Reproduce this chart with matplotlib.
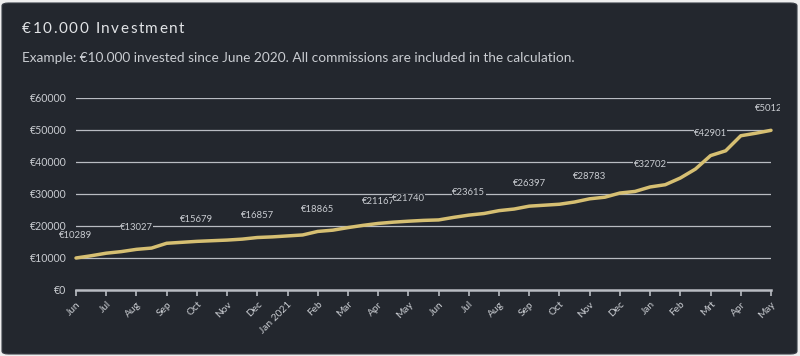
import matplotlib.pyplot as plt
from matplotlib.patches import FancyBboxPatch
from matplotlib.transforms import Bbox, TransformedBbox

# semi-monthly portfolio value, Jun 2020 -> May 2022
values = [10000, 10700, 11500, 12000, 12700, 13100, 14600, 14900, 15200, 15400,
          15600, 15900, 16400, 16600, 16900, 17200, 18300, 18700, 19500, 20200,
          20800, 21200, 21500, 21750, 21900, 22700, 23400, 23900, 24800, 25300,
          26200, 26500, 26800, 27500, 28500, 29000, 30300, 30800, 32200, 32900,
          35000, 37800, 42000, 43500, 48200, 49000, 49900]

months = ['Jun', 'Jul', 'Aug', 'Sep', 'Oct', 'Nov', 'Dec', 'Jan 2021', 'Feb', 'Mar',
          'Apr', 'May', 'Jun', 'Jul', 'Aug', 'Sep', 'Oct', 'Nov', 'Dec', 'Jan',
          'Feb', 'Mrt', 'Apr', 'May']

# labelled months (index into months) and their texts
label_months = [0, 2, 4, 6, 8, 10, 11, 13, 15, 17, 19, 21, 23]
label_texts = ['€10289', '€13027', '€15679', '€16857', '€18865', '€21167', '€21740',
               '€23615', '€26397', '€28783', '€32702', '€42901', '€50125']

yticks = [0, 10000, 20000, 30000, 40000, 50000, 60000]

bg = '#23272e'
txt = '#c9ccd1'
grid = '#b9bcc2'
gold = '#d6bf72'

plt.rcParams['font.family'] = ['Lato', 'DejaVu Sans']

fig = plt.figure(figsize=(8, 3.56), dpi=100)
fig.patch.set_facecolor('#eeeeee')
panel = FancyBboxPatch((2 / 800, 2 / 356), 795 / 800, 351 / 356,
                       boxstyle='round,pad=0,rounding_size=0.008',
                       transform=fig.transFigure, facecolor=bg,
                       edgecolor='#3a3f47', linewidth=0.8, zorder=-10)
fig.patches.append(panel)

ax = fig.add_axes([76 / 800, 66 / 356, 695 / 800, 192 / 356])
ax.set_facecolor('none')

x = [i / 2 for i in range(len(values))]
ax.plot(x, values, color=gold, linewidth=2.5, solid_joinstyle='round',
        solid_capstyle='round', zorder=3, clip_on=False)

ax.set_xlim(0, len(months) - 1)
ax.set_ylim(0, 60000)
ax.set_yticks(yticks)
ax.set_yticklabels(['€' + str(v) for v in yticks])
ax.set_xticks(range(len(months)))
ax.set_xticklabels(months, rotation=45, ha='right', rotation_mode='anchor')

for v in yticks[1:]:
    ax.axhline(v, color=grid, linewidth=0.9, zorder=1)

for s in ['top', 'right', 'left']:
    ax.spines[s].set_visible(False)
ax.spines['bottom'].set_color(grid)
ax.spines['bottom'].set_linewidth(1.8)
ax.tick_params(axis='y', length=0, pad=7, labelsize=7.6, labelcolor=txt)
ax.tick_params(axis='x', length=4, width=1.2, color=grid, pad=3,
               labelsize=7.3, labelcolor=txt)

clip = TransformedBbox(Bbox([[0, 0], [780 / 800, 1]]), fig.transFigure)
for m, t in zip(label_months, label_texts):
    xv = m
    yv = values[m * 2]
    a = ax.annotate(t, (xv, yv), xytext=(0, 16), textcoords='offset points',
                    ha='center', va='center', fontsize=6.8, color=txt, zorder=4,
                    annotation_clip=False,
                    bbox=dict(facecolor=bg, edgecolor='none', pad=0.2))
    a.set_clip_box(clip)
    a.set_clip_on(True)

# title with letter spacing
fig.canvas.draw()
r = fig.canvas.get_renderer()
title = '€10.000 Investment'
xpos = 22
for ch in title:
    t = fig.text(xpos / 800, 1 - 33 / 356, ch, fontsize=11, color='#e2e4e7',
                 va='baseline', ha='left')
    if ch == ' ':
        w = 4.5
    else:
        w = t.get_window_extent(r).width
    xpos += w + 1.5

fig.text(22 / 800, 1 - 58 / 356,
         'Example: €10.000 invested since June 2020. All commissions are included in the calculation.',
         fontsize=9.85, color=txt, va='center', ha='left')

fig.savefig('out.png', dpi=100, facecolor=fig.get_facecolor())
